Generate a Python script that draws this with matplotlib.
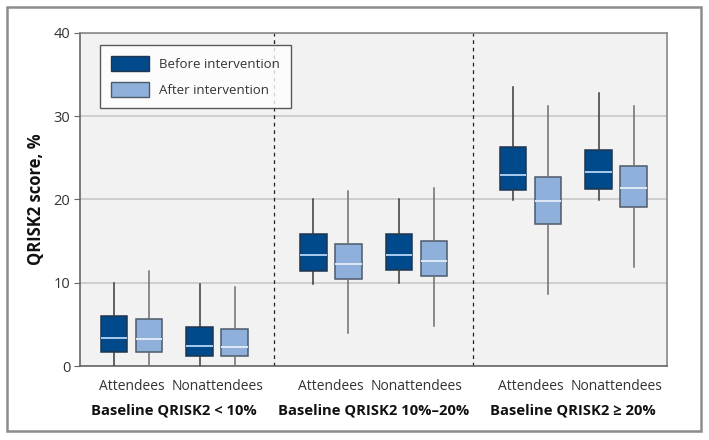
import matplotlib.pyplot as plt
from matplotlib.patches import Rectangle, Patch

plt.rcParams['font.family'] = ['Open Sans', 'DejaVu Sans']

groups = ['Baseline QRISK2 < 10%', 'Baseline QRISK2 10%\u201320%', 'Baseline QRISK2 \u2265 20%']
cohorts = ['Attendees', 'Nonattendees']

# per group: [attendees, nonattendees]; each entry (whislo, q1, med, q3, whishi)
before = [
    [(0.1, 1.7, 3.4, 6.0, 10.0), (0.1, 1.2, 2.45, 4.7, 9.8)],
    [(9.9, 11.45, 13.3, 15.85, 20.0), (10.0, 11.5, 13.3, 15.8, 20.0)],
    [(19.9, 21.2, 23.0, 26.3, 33.5), (19.9, 21.3, 23.3, 25.9, 32.8)],
]
after = [
    [(0.1, 1.7, 3.2, 5.6, 11.4), (0.1, 1.25, 2.3, 4.5, 9.5)],
    [(4.0, 10.4, 12.2, 14.65, 21.0), (4.8, 10.8, 12.65, 15.0, 21.4)],
    [(8.7, 17.1, 19.8, 22.7, 31.2), (11.85, 19.1, 21.4, 24.0, 31.2)],
]

dark = '#004a8c'
light = '#8eb0da'
txt = '#333333'

fig = plt.figure(figsize=(7.09, 4.40), dpi=100)
ax = fig.add_axes([80 / 709, 74 / 440, 587 / 709, 333 / 440])
ax.set_facecolor('#f2f2f2')

fig.patches.append(Rectangle((7 / 709, 9 / 440), 694 / 709, 424 / 440, transform=fig.transFigure,
                             fill=False, edgecolor='#8c8c8c', linewidth=1.8))

gap = 2.0
pair_off = 0.43
box_off = 0.175
width = 0.265


def stats(v):
    lo, q1, med, q3, hi = v
    return dict(whislo=lo, q1=q1, med=med, q3=q3, whishi=hi, fliers=[])


for series, shift, face, edge, wcol, mcol in [
    (before, -box_off, dark, '#1f3550', '#3a3a3a', '#a9cbee'),
    (after, box_off, light, '#4d5a6b', '#6e6e6e', '#dfe9f5'),
]:
    st, pos = [], []
    for g in range(len(groups)):
        for c in range(len(cohorts)):
            st.append(stats(series[g][c]))
            pos.append(g * gap + (c - 0.5) * 2 * pair_off + shift)
    ax.bxp(st, positions=pos, widths=width, patch_artist=True, showcaps=False,
           showfliers=False, manage_ticks=False,
           boxprops=dict(facecolor=face, edgecolor=edge, linewidth=1.1),
           whiskerprops=dict(color=wcol, linewidth=1.1),
           medianprops=dict(color=mcol, linewidth=1.4), zorder=3)

ax.set_xlim(-0.945, 2 * gap + 0.94)
ax.set_ylim(0, 40)
ax.set_yticks([0, 10, 20, 30, 40])
ax.yaxis.grid(True, color='#c8c8c8', linewidth=1.2)
ax.set_axisbelow(True)
for g in range(1, len(groups)):
    ax.axvline(g * gap - gap / 2, color='#222222', linestyle=(0, (3, 3)), linewidth=0.9, zorder=2)

for s in ['left', 'bottom']:
    ax.spines[s].set_color('#666666')
    ax.spines[s].set_linewidth(1.2)
for s in ['top', 'right']:
    ax.spines[s].set_color('#888888')
    ax.spines[s].set_linewidth(1.2)

ax.set_xticks([])
ax.tick_params(axis='y', length=4, color='#666666', labelsize=10.5, labelcolor=txt, pad=3)

for g, name in enumerate(groups):
    for c, co in enumerate(cohorts):
        ax.text(g * gap + (c - 0.5) * 2 * pair_off, -2.5, co, ha='center', va='center',
                fontsize=10, color=txt)
    ax.text(g * gap, -5.3, name, ha='center', va='center', fontsize=10.6,
            fontweight='bold', color='#111111')

ax.set_ylabel('QRISK2 score, %', fontsize=12, fontweight='bold', color='#111111', labelpad=6)

handles = [Patch(facecolor=dark, edgecolor='#1f3550', label='Before intervention'),
           Patch(facecolor=light, edgecolor='#4d5a6b', label='After intervention')]
leg = ax.legend(handles=handles, loc='upper left', bbox_to_anchor=(0.034, 0.964), fontsize=9.5,
                frameon=True, fancybox=False, edgecolor='#333333', handlelength=2.9,
                handleheight=1.4, labelspacing=0.8, borderpad=0.85, handletextpad=0.75,
                borderaxespad=0, labelcolor=txt)
leg.get_frame().set_linewidth(1.0)

fig.savefig('out.png', dpi=100)
